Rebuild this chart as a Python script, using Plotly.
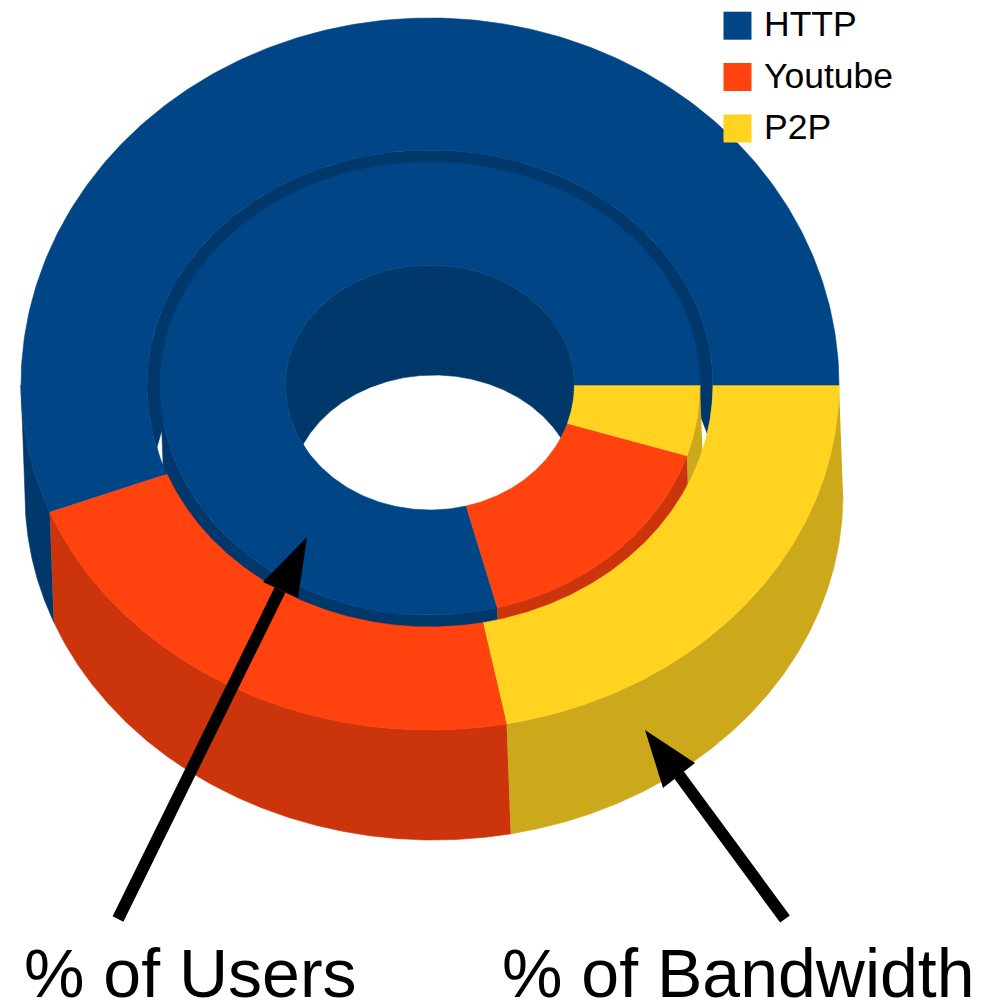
import numpy as np
import plotly.graph_objects as go

# ---- data ----
categories = ["HTTP", "Youtube", "P2P"]
users_pct = [79, 16, 5]
bandwidth_pct = [56, 22, 22]
top_colors = ["#004586", "#FF420E", "#FFD320"]
side_colors = ["#00386B", "#CC350B", "#CCA91A"]

# ---- drawing geometry (pixel-like axis units) ----
CX, CY = 430, 385
OUTER = (409, 367, 345)   # rx, upper ry, lower ry
GAP = (283, 235, 242)
INNER = (270, 223, 230)
HOLE = (144.5, 120, 125)
SHIFT = (4, 110)


def arc(ring, t0, t1, shift=False, n=240):
    rx, up, lo = ring
    t = np.radians(np.linspace(t0, t1, n))
    s = np.sin(t)
    dx, dy = SHIFT if shift else (0, 0)
    return CX + dx + rx * np.cos(t), CY + dy + np.where(s >= 0, lo, up) * s


def slices(pct):
    """Clockwise from 3 o'clock, last category first."""
    out, start = [], 0.0
    for i in reversed(range(len(pct))):
        end = start + pct[i] * 3.6
        out.append((i, start, end))
        start = end
    return out


fig = go.Figure()


def poly(x, y, color):
    fig.add_trace(go.Scatter(x=x, y=y, mode="lines", fill="toself", fillcolor=color,
                             line=dict(color=color, width=0.6), hoverinfo="skip", showlegend=False))


def wall(ring, t0, t1, color):
    x1, y1 = arc(ring, t0, t1)
    x2, y2 = arc(ring, t1, t0, shift=True)
    poly(np.r_[x1, x2], np.r_[y1, y2], color)


def face(r_out, r_in, t0, t1, color):
    x1, y1 = arc(r_out, t0, t1)
    x2, y2 = arc(r_in, t1, t0)
    poly(np.r_[x1, x2], np.r_[y1, y2], color)


def back_wall(ring, t0, t1, s0, s1, color):
    x1, y1 = arc(ring, t0, t1)
    x2, y2 = arc(ring, s1, s0, shift=True)
    poly(np.r_[x1, x2], np.r_[y1, y2], color)


# outer wall of the bandwidth ring (front half only)
for i, a, b in slices(bandwidth_pct):
    a2, b2 = max(a, 0), min(b, 180)
    if a2 < b2:
        wall(OUTER, a2, b2, side_colors[i])

# back wall seen through the bandwidth ring opening
back_wall(GAP, 164, 371, 191, 345, side_colors[0])

# outer wall of the users ring
for i, a, b in slices(users_pct):
    a2, b2 = max(a, 0), min(b, 180)
    if a2 < b2:
        wall(INNER, a2, b2, side_colors[i])

# bandwidth ring top
for i, a, b in slices(bandwidth_pct):
    face(OUTER, GAP, a, b, top_colors[i])

# back wall of the centre hole
back_wall(HOLE, 150, 385, 203, 332, side_colors[0])

# users ring top
for i, a, b in slices(users_pct):
    face(INNER, HOLE, a, b, top_colors[i])

# legend
legend_y = [25.7, 77, 128.5]
fig.add_trace(go.Scatter(x=[737.5] * 3, y=legend_y, mode="markers",
                         marker=dict(symbol="square", size=28, color=top_colors, line=dict(width=0)),
                         hoverinfo="skip", showlegend=False))
fig.add_trace(go.Scatter(x=[764] * 3, y=[27.5, 79, 130.5], mode="text", text=categories,
                         textposition="middle right",
                         textfont=dict(family="Liberation Sans", size=35.5, color="#000000"),
                         hoverinfo="skip", showlegend=False))

# arrows
shapes = [
    dict(type="line", x0=118, y0=919, x1=280, y1=590, line=dict(color="black", width=12), layer="above"),
    dict(type="path", path="M307,537 L263,582 L298,598 Z", fillcolor="black", line=dict(width=0), layer="above"),
    dict(type="line", x0=785, y0=919, x1=679, y1=775, line=dict(color="black", width=12), layer="above"),
    dict(type="path", path="M645,730 L695,763 L663,788 Z", fillcolor="black", line=dict(width=0), layer="above"),
]

annotations = [
    dict(x=22, y=973, text="% of Users", showarrow=False, xanchor="left", yanchor="middle",
         font=dict(family="Liberation Sans", size=68, color="#000000")),
    dict(x=500, y=973, text="% of Bandwidth", showarrow=False, xanchor="left", yanchor="middle",
         font=dict(family="Liberation Sans", size=68, color="#000000")),
]

fig.update_layout(
    width=989, height=1003, margin=dict(l=0, r=0, t=0, b=0),
    paper_bgcolor="white", plot_bgcolor="white", showlegend=False,
    xaxis=dict(range=[0, 989], visible=False, fixedrange=True),
    yaxis=dict(range=[1003, 0], visible=False, fixedrange=True),
    shapes=shapes, annotations=annotations,
)
fig.write_html("out.html", config={"displayModeBar": False},
               post_script="document.body.style.margin='0';document.documentElement.style.overflow='hidden';")
